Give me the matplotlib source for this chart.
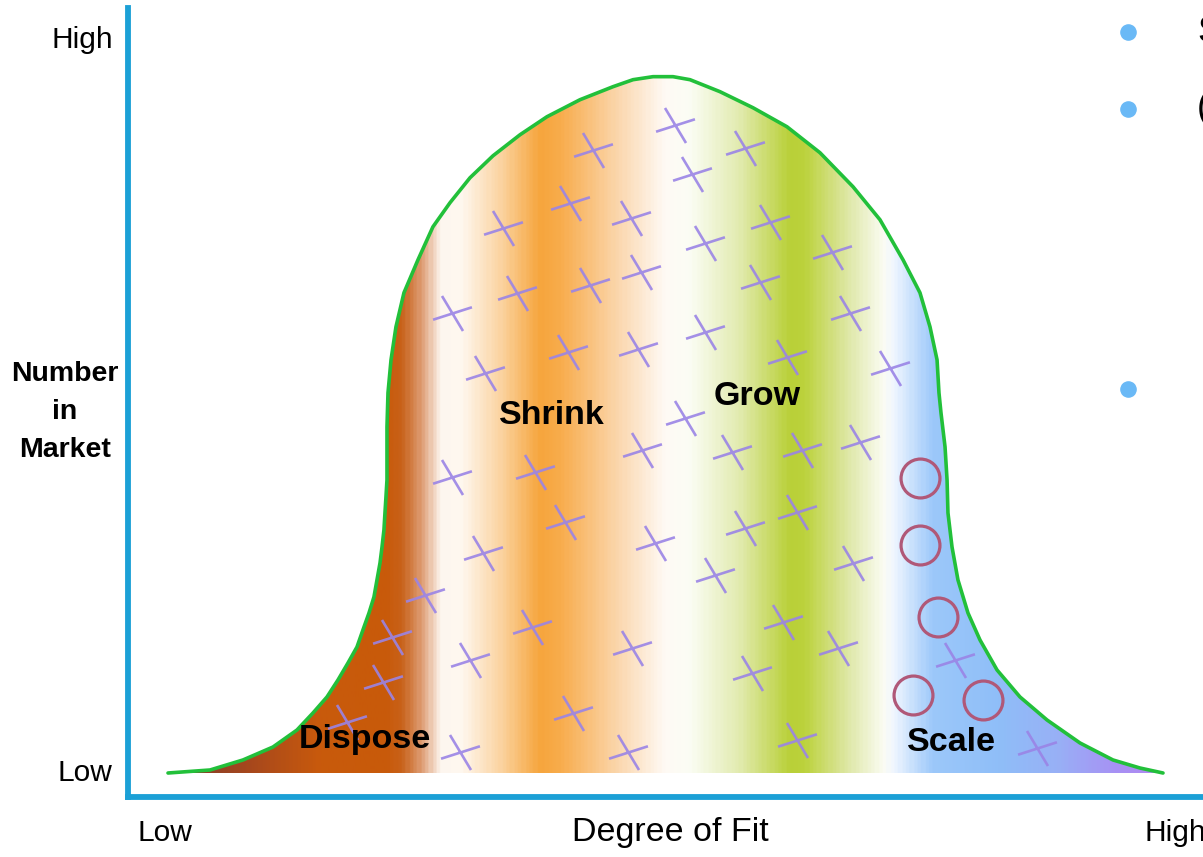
import numpy as np
import matplotlib
matplotlib.use("Agg")
import matplotlib.pyplot as plt
from matplotlib.colors import LinearSegmentedColormap
from matplotlib.patches import Polygon
from matplotlib.path import Path

# outline of the "number in market" curve (0 = Low, 100 = High)
curve_x = [0.30, 4.46, 7.72, 10.69, 13.07, 14.65, 16.04, 17.13, 18.12, 19.01, 19.60, 20.20,
           20.69, 20.99, 21.29, 21.49, 21.68, 21.78, 21.88, 21.98, 21.98, 21.98, 22.08, 22.38,
           22.87, 23.66, 25.05, 26.53, 28.22, 30.20, 32.48, 35.15, 37.82, 41.09, 44.36, 46.34,
           48.32, 50.30, 51.98, 54.95, 58.22, 61.58, 64.85, 68.12, 70.79, 73.07, 74.75, 75.74,
           76.44, 76.63, 76.83, 77.23, 77.43, 77.52, 77.92, 78.51, 79.50, 80.69, 82.38, 84.65,
           87.33, 90.59, 93.86, 96.53, 98.81]
curve_y = [0.00, 0.41, 1.77, 3.53, 5.84, 8.15, 10.33, 12.64, 14.95, 17.12, 19.43, 21.74,
           23.91, 26.22, 28.53, 30.71, 33.02, 35.33, 37.50, 39.81, 42.53, 47.01, 51.63, 56.11,
           60.60, 65.22, 69.70, 74.18, 77.45, 80.84, 83.83, 86.68, 89.13, 91.44, 93.21, 94.16,
           94.57, 94.57, 94.16, 92.53, 90.35, 87.77, 84.24, 79.62, 75.14, 69.70, 65.22, 60.60,
           56.11, 51.63, 48.91, 44.29, 39.81, 35.33, 30.71, 26.22, 21.74, 18.07, 13.99, 10.33,
           7.20, 4.08, 1.77, 0.68, 0.00]

# colour bands across degree of fit
band_pos = [0.3, 8.4, 15.3, 21.8, 23.3, 25.2, 27.2, 29.2, 33.2, 37.1, 39.1, 45.0, 49.5,
            52.0, 56.9, 61.9, 63.4, 67.8, 71.3, 72.3, 76.2, 82.7, 88.6, 94.6, 98.8]
band_col = ['#7d3a2e', '#a8481c', '#c95a0c', '#c85a0a', '#c8621a', '#dd9a70', '#fdf6ef',
            '#fff8f0', '#fbd3a0', '#f6a53c', '#f8ac4c', '#fbd8b0', '#fffaf5', '#fbfdf4',
            '#e2ebb0', '#b9d038', '#bcd23c', '#dfe8a8', '#fbfcf4', '#f0f6ff', '#9cc8fa',
            '#8fbef8', '#98b0f6', '#a890f4', '#b088f0']

# companies ("x") and scale targets ("o")
cross_x = [50.5, 57.4, 42.4, 52.2, 40.1, 46.1, 33.5, 53.5, 59.9, 66.0, 34.9, 42.1, 47.1,
           58.9, 28.4, 67.8, 39.9, 46.8, 53.5, 31.7, 61.6, 71.8, 51.5, 47.2, 56.1, 63.1,
           68.8, 28.4, 36.6, 39.6, 48.5, 57.4, 62.6, 31.5, 54.5, 68.1, 25.7, 22.5, 36.3,
           61.2, 30.2, 46.2, 66.6, 21.6, 58.1, 78.2, 18.0, 40.4, 29.2, 45.8, 62.6, 86.3]
cross_y = [88.0, 84.9, 84.6, 81.3, 77.4, 75.4, 74.0, 72.0, 74.9, 70.7, 65.2, 66.3, 68.1,
           66.7, 62.5, 62.5, 57.2, 57.6, 59.9, 54.3, 56.5, 55.0, 48.2, 43.8, 43.6, 43.9,
           45.0, 40.2, 40.9, 34.1, 31.3, 33.3, 35.5, 29.9, 26.9, 28.5, 24.2, 18.5, 19.8,
           20.5, 15.4, 17.0, 17.0, 12.4, 13.6, 15.4, 6.9, 8.2, 2.9, 2.9, 4.5, 3.4]
circle_x = [74.8, 74.8, 76.5, 74.1, 81.0]
circle_y = [40.1, 31.0, 21.2, 10.6, 9.9]

regions = ['Dispose', 'Shrink', 'Grow', 'Scale']
region_x = [19.8, 38.3, 58.6, 77.9]
region_y = [4.5, 48.6, 51.1, 4.1]

bullet_x = [95.3, 95.3, 95.3]
bullet_y = [100.7, 90.2, 52.2]

arial = ['Liberation Sans', 'DejaVu Sans']

fig = plt.figure(figsize=(12.03, 8.57), dpi=100)
ax = fig.add_axes([0.1064, 0.0700, 0.8936, 0.9207])
ax.set_xlim(-3.66, 102.77)
ax.set_ylim(-3.26, 103.9)

# gradient fill clipped to the curve
cmap = LinearSegmentedColormap.from_list(
    'fit', [((p - band_pos[0]) / (band_pos[-1] - band_pos[0]), c) for p, c in zip(band_pos, band_col)])
grad = np.linspace(0, 1, 600).reshape(1, -1)
im = ax.imshow(grad, cmap=cmap, aspect='auto', extent=[band_pos[0], band_pos[-1], 0, 100],
               interpolation='bilinear', zorder=1)
poly = Polygon(np.column_stack([curve_x, curve_y]), closed=True, facecolor='none',
               edgecolor='none', transform=ax.transData)
ax.add_patch(poly)
im.set_clip_path(poly)
ax.plot(curve_x, curve_y, color='#22c03a', lw=2.6, zorder=3, solid_capstyle='round',
        solid_joinstyle='round')

# skewed cross marker
cross = Path([(-0.5, -0.16), (0.5, 0.16), (-0.27, 0.45), (0.27, -0.45)],
             [Path.MOVETO, Path.LINETO, Path.MOVETO, Path.LINETO])
ax.plot(cross_x, cross_y, ls='none', marker=cross, markersize=28, markeredgewidth=1.9,
        color='#9a84e6', alpha=0.9, zorder=4)
ax.plot(circle_x, circle_y, ls='none', marker='o', markersize=28, markerfacecolor='none',
        markeredgewidth=2.3, markeredgecolor='#b05878', zorder=4)

for name, x, y in zip(regions, region_x, region_y):
    ax.text(x, y, name, ha='center', va='center', fontsize=24.5, fontweight='bold',
            family=arial, zorder=5)

ax.scatter(bullet_x, bullet_y, s=120, color='#6ab9f6', clip_on=False, zorder=5)
fig.text(1197 / 1203, 1 - 32 / 857, 'S', fontsize=26, family=arial, ha='left', va='center')
fig.text(1197 / 1203, 1 - 109 / 857, '(', fontsize=26, family=arial, ha='left', va='center')

# axes styling
for side in ['top', 'right']:
    ax.spines[side].set_visible(False)
for side in ['left', 'bottom']:
    ax.spines[side].set_color('#1ba0d6')
    ax.spines[side].set_linewidth(4.2)
ax.set_xticks([0, 100])
ax.set_xticklabels(['Low', 'High'], family=arial, fontsize=21.5)
ax.set_yticks([0.4, 100])
ax.set_yticklabels(['Low', 'High'], family=arial, fontsize=21.5)
ax.tick_params(length=0)
ax.tick_params(axis='x', pad=16)
ax.tick_params(axis='y', pad=11)

ax.set_xlabel('Degree of Fit', family=arial, fontsize=24.5, va='center')
ax.xaxis.set_label_coords(0.505, -0.0456)
ax.set_ylabel('Number\nin\nMarket', family=arial, fontsize=20.5, fontweight='bold',
              rotation=0, ha='center', va='center', linespacing=1.6)
ax.yaxis.set_label_coords(-0.0586, 0.488)

fig.savefig('out.png', dpi=100)
